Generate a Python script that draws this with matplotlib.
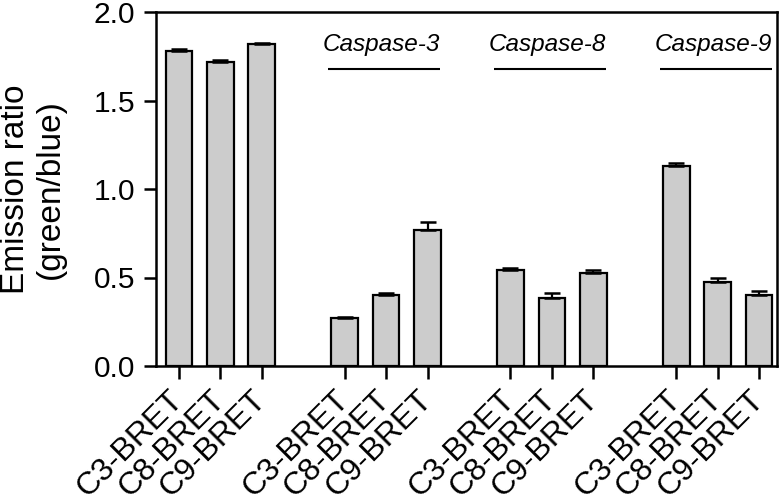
import matplotlib
matplotlib.use("Agg")
import matplotlib.pyplot as plt
import numpy as np

plt.rcParams['font.family'] = ['Liberation Sans', 'DejaVu Sans']

groups = ["Control", "Caspase-3", "Caspase-8", "Caspase-9"]
sensors = ["C3-BRET", "C8-BRET", "C9-BRET"]
values = [1.78, 1.72, 1.82,
          0.27, 0.40, 0.77,
          0.54, 0.385, 0.525,
          1.13, 0.475, 0.40]
errors = [0.01, 0.01, 0.005,
          0.005, 0.015, 0.045,
          0.012, 0.03, 0.02,
          0.015, 0.02, 0.025]
group_labels = ["", "Caspase-3", "Caspase-8", "Caspase-9"]

positions = []
for gi in range(len(groups)):
    for si in range(len(sensors)):
        positions.append(gi * 4 + si)
positions = np.array(positions, dtype=float)
ticklabels = sensors * len(groups)

fig = plt.figure(figsize=(7.83, 4.99), dpi=100)
ax = fig.add_axes([156/783, 1 - 366/499, (777-156)/783, (366-12)/499])

ax.bar(positions, values, width=0.64, color="#cccccc", edgecolor="black",
       linewidth=1.6, zorder=2)
ax.errorbar(positions, values, yerr=[np.zeros(len(errors)), errors], fmt="none",
            ecolor="black", elinewidth=1.6, capsize=6, capthick=1.8, zorder=3)

ax.set_xlim(-0.55, 14.43)
ax.set_ylim(0, 2.0)
ax.set_yticks([0.0, 0.5, 1.0, 1.5, 2.0])
ax.set_yticklabels(["0.0", "0.5", "1.0", "1.5", "2.0"])
ax.set_xticks(positions)
ax.set_xticklabels(ticklabels, rotation=45, ha="right", va="center",
                   rotation_mode="anchor")
ax.tick_params(axis="both", width=1.8, length=9, direction="out")
ax.tick_params(axis="y", labelsize=21.5, pad=6)
ax.tick_params(axis="x", labelsize=23, pad=12)
for s in ax.spines.values():
    s.set_linewidth(1.8)

ax.set_ylabel("Emission ratio\n(green/blue)", fontsize=24, linespacing=1.15,
              labelpad=20)

for gi, lab in enumerate(group_labels):
    if not lab:
        continue
    c = gi * 4 + 1
    ax.plot([c - 1.4, c + 1.3], [1.68, 1.68], color="black", lw=1.5,
            solid_capstyle="butt", zorder=3)
    ax.text(c - 0.11, 1.815, lab, ha="center", va="center", fontsize=17.5,
            style="italic")

fig.savefig("out.png", dpi=100)
